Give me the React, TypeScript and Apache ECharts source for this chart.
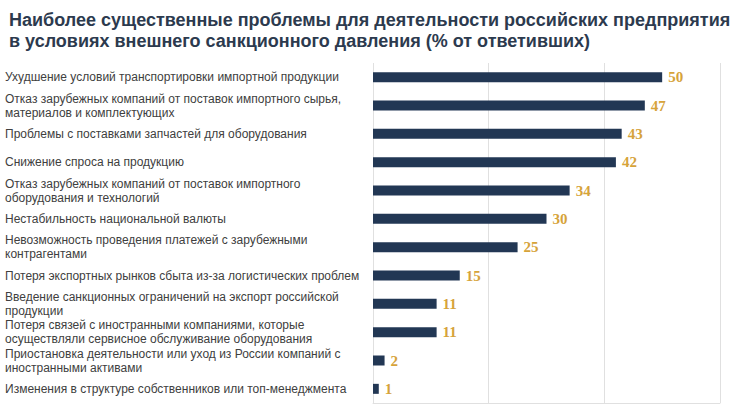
import React, { useEffect, useRef } from "react";
import * as echarts from "echarts";

const titleText =
  "Наиболее существенные проблемы для деятельности российских предприятия\nв условиях внешнего санкционного давления (% от ответивших)";

const categories = [
  "Ухудшение условий транспортировки импортной продукции",
  "Отказ зарубежных компаний от поставок импортного сырья,\nматериалов и комплектующих",
  "Проблемы с поставками запчастей для оборудования",
  "Снижение спроса на продукцию",
  "Отказ зарубежных компаний от поставок импортного\nоборудования и технологий",
  "Нестабильность национальной валюты",
  "Невозможность проведения платежей с зарубежными\nконтрагентами",
  "Потеря экспортных рынков сбыта из-за логистических проблем",
  "Введение санкционных ограничений на экспорт российской\nпродукции",
  "Потеря связей с иностранными компаниями, которые\nосуществляли сервисное обслуживание оборудования",
  "Приостановка деятельности или уход из России компаний с\nиностранными активами",
  "Изменения в структуре собственников или топ-менеджмента",
];

const values = [50, 47, 43, 42, 34, 30, 25, 15, 11, 11, 2, 1];

export default function App() {
  const ref = useRef<HTMLDivElement>(null);
  useEffect(() => {
    if (!ref.current) return;
    const chart = echarts.init(ref.current, null, { renderer: "svg" });
    chart.setOption({
      animation: false,
      backgroundColor: "#ffffff",
      title: {
        text: titleText,
        left: 4,
        top: 4,
        textStyle: {
          fontFamily: "Liberation Sans",
          fontWeight: "bold",
          fontSize: 18,
          lineHeight: 21,
          color: "#2c3a4e",
        },
      },
      grid: { left: 373, right: 27, top: 63, bottom: 6 },
      xAxis: {
        type: "value",
        min: 0,
        max: 60,
        interval: 20,
        axisLabel: { show: false },
        axisTick: { show: false },
        axisLine: { show: true, lineStyle: { color: "#e0e0e0" } },
        splitLine: { show: true, lineStyle: { color: "#e0e0e0", width: 1 } },
      },
      yAxis: {
        type: "category",
        inverse: true,
        data: categories,
        axisLine: { show: false },
        axisTick: { show: false },
        axisLabel: {
          align: "left",
          margin: 368,
          fontFamily: "Liberation Sans",
          fontSize: 12,
          lineHeight: 14,
          color: "#404040",
        },
      },
      series: [
        {
          type: "bar",
          data: values,
          barWidth: 10,
          itemStyle: { color: "#223754" },
          label: {
            show: true,
            position: "right",
            distance: 6,
            fontFamily: "Liberation Serif",
            fontWeight: "bold",
            fontSize: 15,
            color: "#d6a33a",
          },
        },
      ],
    });
    return () => chart.dispose();
  }, []);
  return (
    <div
      ref={ref}
      style={{ position: "fixed", left: 0, top: 0, width: 747, height: 409 }}
    />
  );
}
